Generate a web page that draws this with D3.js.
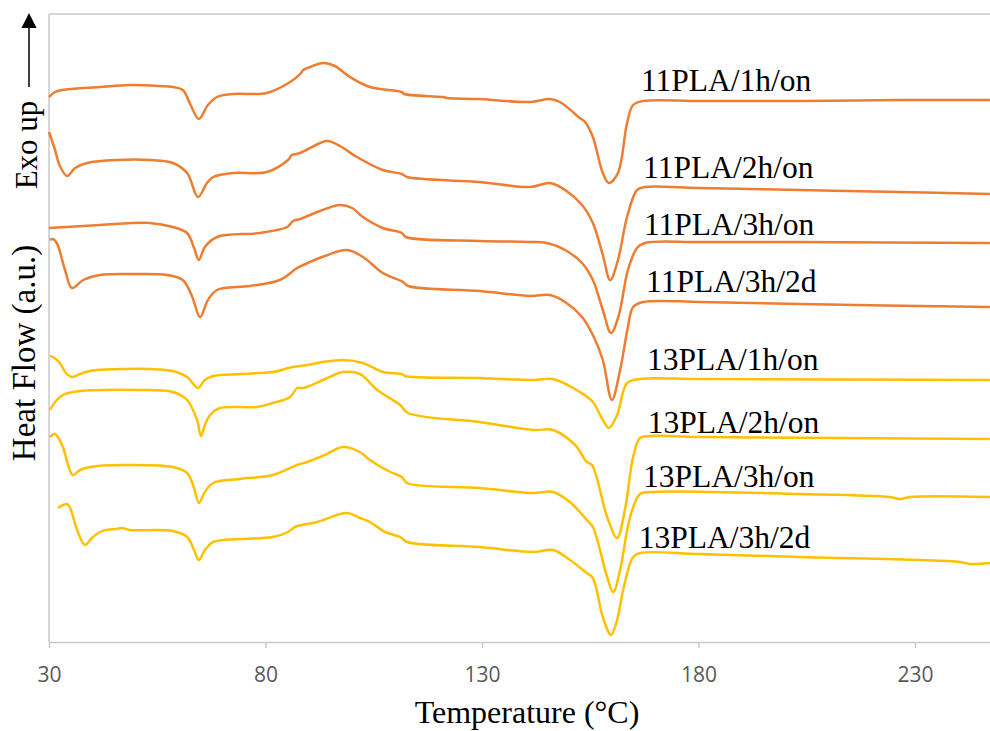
<!DOCTYPE html>
<html>
<head>
<meta charset="utf-8">
<script src="https://cdn.jsdelivr.net/npm/d3@7/dist/d3.min.js"></script>
<style>
  body { margin: 0; background: #fff; }
  svg { display: block; }
</style>
</head>
<body>
<div id="chart"></div>
<script>
// Heat flow curves, [temperature (°C), heat flow (a.u.)]
const pla11_1h_on = [[30.0,54.5],[31.4,55.0],[33.0,55.2],[41.8,55.5],[48.7,55.7],[55.6,55.6],[58.6,55.5],[60.9,55.2],[62.6,53.8],[64.6,52.3],[66.7,53.7],[68.8,54.5],[72.5,54.8],[80.3,54.9],[85.7,56.0],[88.0,56.8],[88.7,57.2],[90.3,57.5],[93.3,57.9],[96.0,57.6],[99.5,56.5],[104.1,55.5],[111.5,55.0],[112.0,54.8],[121.0,54.5],[121.9,54.4],[129.5,54.3],[141.1,54.0],[145.7,54.3],[148.0,54.0],[152.6,52.4],[153.8,52.0],[155.6,50.5],[157.9,46.9],[159.3,45.9],[161.4,46.9],[163.5,51.9],[164.9,53.7],[167.2,54.1],[180.3,54.1],[203.4,54.1],[226.5,54.2],[247.3,54.2]];
const pla11_2h_on = [[30.0,51.0],[31.4,49.2],[32.5,47.6],[34.2,46.6],[36.0,47.4],[38.8,47.9],[45.7,48.2],[53.3,48.2],[58.6,47.9],[61.9,46.9],[64.4,44.5],[66.5,45.9],[67.9,46.5],[72.5,46.9],[80.3,47.0],[85.2,48.2],[86.1,48.7],[88.0,48.9],[92.6,49.9],[94.4,50.1],[97.2,49.6],[101.1,48.5],[107.1,47.2],[111.5,46.8],[112.7,46.5],[129.5,46.0],[141.1,45.5],[145.7,45.9],[149.2,45.2],[153.1,43.7],[155.6,41.9],[157.9,38.7],[159.6,36.2],[161.4,38.2],[163.5,42.5],[165.8,45.2],[167.6,45.5],[180.3,45.4],[203.4,45.2],[226.5,45.0],[247.3,44.8]];
const pla11_3h_on = [[30.0,41.4],[41.8,41.7],[53.3,41.9],[58.6,41.5],[61.9,40.9],[63.5,39.4],[64.6,38.2],[66.0,39.5],[68.8,40.5],[78.7,40.9],[85.0,41.5],[86.4,42.1],[88.0,42.3],[92.6,43.1],[97.2,43.7],[100.0,43.4],[102.5,42.5],[107.1,41.4],[111.5,40.9],[112.4,40.5],[129.5,40.1],[141.1,40.0],[145.0,39.9],[149.2,39.2],[153.1,37.9],[155.6,36.2],[157.9,33.2],[159.8,30.9],[161.6,32.7],[163.7,37.2],[165.8,39.4],[167.6,39.9],[180.3,40.0],[203.4,40.0],[247.3,39.9]];
const pla11_3h_2d = [[30.2,40.2],[30.9,40.3],[31.8,39.9],[33.7,37.2],[35.3,35.4],[37.9,36.2],[41.8,36.7],[49.4,36.8],[57.3,36.7],[60.9,36.2],[63.0,34.6],[64.9,32.5],[66.7,34.2],[68.8,35.2],[76.4,35.6],[83.3,36.2],[87.3,37.4],[88.7,37.7],[93.7,38.6],[98.8,39.2],[102.5,38.5],[107.1,36.9],[111.8,36.0],[112.9,35.6],[129.5,35.1],[141.1,34.6],[145.7,34.7],[149.2,34.0],[153.1,32.5],[155.6,30.7],[157.9,28.2],[160.0,24.2],[161.9,27.2],[163.7,31.5],[164.9,33.5],[167.2,34.0],[180.3,34.0],[203.4,33.8],[247.3,33.5]];
const pla13_1h_on = [[30.2,28.6],[30.9,28.5],[32.5,27.9],[33.9,26.9],[35.3,26.5],[37.2,26.8],[39.5,27.1],[47.1,27.3],[53.3,27.3],[58.6,27.1],[61.9,26.5],[64.4,25.4],[66.0,26.2],[67.9,26.6],[74.1,26.8],[81.7,27.0],[84.5,27.3],[85.2,27.4],[89.6,27.7],[93.3,28.0],[97.9,28.2],[102.5,27.9],[107.1,27.0],[111.5,26.8],[112.2,26.6],[129.5,26.4],[141.8,26.2],[146.4,26.3],[152.6,25.0],[155.6,24.0],[157.9,22.2],[159.3,21.4],[161.2,22.7],[163.5,25.9],[166.5,26.3],[180.3,26.3],[247.3,26.2]];
const pla13_2h_on = [[30.2,23.2],[31.8,24.2],[33.2,24.7],[35.5,25.0],[51.0,25.2],[58.6,25.0],[61.9,24.2],[64.2,22.2],[65.1,20.6],[66.0,21.7],[67.2,22.7],[69.5,23.4],[78.0,23.5],[81.7,23.9],[85.7,24.5],[87.3,25.4],[88.7,25.4],[93.3,26.2],[97.9,27.0],[101.8,26.8],[105.8,25.2],[111.1,23.7],[112.9,22.9],[129.5,22.0],[141.8,21.2],[146.4,21.2],[151.5,19.7],[154.2,18.0],[155.4,17.7],[158.9,12.5],[161.2,10.4],[163.0,13.2],[164.9,18.5],[166.5,20.4],[168.8,20.6],[180.3,20.5],[247.3,20.3]];
const pla13_3h_on = [[30.2,20.5],[31.4,20.8],[33.2,19.5],[34.4,17.7],[35.5,16.7],[37.2,17.2],[39.5,17.5],[47.1,17.7],[58.6,17.5],[61.9,16.9],[63.5,15.4],[64.6,13.9],[66.0,15.0],[67.9,15.9],[74.1,16.3],[81.7,16.7],[87.3,17.7],[89.6,18.0],[93.7,18.7],[97.9,19.5],[101.8,19.0],[104.1,18.2],[108.8,17.0],[111.5,16.5],[112.7,15.9],[129.5,15.4],[141.8,14.9],[146.4,15.0],[150.3,14.0],[154.2,12.2],[155.6,11.5],[158.9,6.5],[160.3,5.0],[161.9,7.2],[164.2,12.5],[166.5,14.8],[168.8,15.0],[203.4,14.8],[224.2,14.5],[226.5,14.3],[228.8,14.5],[247.3,14.5]];
const pla13_3h_2d = [[32.1,13.4],[33.2,13.7],[34.2,13.8],[34.8,13.5],[36.5,11.2],[38.3,9.7],[39.9,10.4],[41.8,11.0],[43.4,11.2],[45.5,11.3],[46.9,11.4],[48.7,11.2],[58.6,11.1],[61.9,10.5],[63.5,9.2],[64.6,8.2],[66.0,9.2],[67.9,10.0],[74.1,10.3],[81.7,10.5],[85.2,11.0],[86.8,11.5],[91.9,12.0],[98.8,12.9],[101.8,12.4],[104.1,12.0],[107.6,11.0],[111.1,10.5],[112.7,10.0],[129.5,9.5],[141.8,9.0],[146.4,9.2],[150.3,8.2],[154.2,6.9],[155.6,6.4],[157.9,2.5],[159.8,0.7],[161.2,2.2],[162.6,5.2],[164.9,8.5],[166.5,8.9],[180.3,8.8],[203.4,8.5],[240.4,8.0],[242.7,7.8],[247.3,7.9]];

const seriesNames = ["11PLA/1h/on", "11PLA/2h/on", "11PLA/3h/on", "11PLA/3h/2d",
                     "13PLA/1h/on", "13PLA/2h/on", "13PLA/3h/on", "13PLA/3h/2d"];
const seriesValues = [pla11_1h_on, pla11_2h_on, pla11_3h_on, pla11_3h_2d,
                      pla13_1h_on, pla13_2h_on, pla13_3h_on, pla13_3h_2d];
// where each curve name sits, [temperature, heat flow]
const labelAt = [[166.7,55.1],[167.2,46.4],[167.4,40.7],[167.9,35.0],
                 [168.1,27.2],[168.3,20.9],[167.2,15.5],[166.2,9.4]];
const xTicks = [30, 80, 130, 180, 230];

const width = 990, height = 731;
const margin = { top: 14, left: 49, bottom: 89 };

const svg = d3.select("#chart").append("svg")
  .attr("width", width)
  .attr("height", height);

const x = d3.scaleLinear()
  .domain([30, 250])
  .range([margin.left, margin.left + 220 * 4.33]);

const y = d3.scaleLinear()
  .domain([0, 62.8])
  .range([height - margin.bottom, margin.top]);

const color = d3.scaleOrdinal()
  .domain(["11PLA", "13PLA"])
  .range(["#ED7D31", "#FFC000"]);

// plot frame: top and left edges
svg.append("line")
  .attr("x1", margin.left).attr("x2", width)
  .attr("y1", margin.top).attr("y2", margin.top)
  .attr("stroke", "#c8c8c8").attr("stroke-width", 1.5);

svg.append("line")
  .attr("x1", margin.left).attr("x2", margin.left)
  .attr("y1", margin.top).attr("y2", y(0))
  .attr("stroke", "#c8c8c8").attr("stroke-width", 1.5);

// x axis
const xAxis = svg.append("g")
  .attr("transform", `translate(0,${y(0)})`)
  .call(d3.axisBottom(x).tickValues(xTicks).tickSize(6).tickSizeOuter(0).tickPadding(19));

xAxis.select(".domain").attr("stroke", "#c8c8c8").attr("stroke-width", 1.5);
xAxis.selectAll(".tick line").attr("stroke", "#c8c8c8").attr("stroke-width", 1.5);
xAxis.selectAll(".tick text")
  .attr("fill", "#595959")
  .style("font-family", "'Open Sans', sans-serif")
  .style("font-size", "21px");

// axis titles
svg.append("text")
  .attr("x", 527)
  .attr("y", 723)
  .attr("text-anchor", "middle")
  .style("font-family", "'Liberation Serif', serif")
  .style("font-size", "32px")
  .text("Temperature (°C)");

svg.append("text")
  .attr("transform", "translate(35,353) rotate(-90)")
  .attr("text-anchor", "middle")
  .style("font-family", "'Liberation Serif', serif")
  .style("font-size", "33px")
  .text("Heat Flow (a.u.)");

svg.append("text")
  .attr("transform", "translate(37,145) rotate(-90)")
  .attr("text-anchor", "middle")
  .style("font-family", "'Liberation Serif', serif")
  .style("font-size", "31px")
  .text("Exo up");

// exo up arrow
svg.append("line")
  .attr("x1", 29).attr("x2", 29)
  .attr("y1", 87).attr("y2", 26)
  .attr("stroke", "black").attr("stroke-width", 1.5);

svg.append("path")
  .attr("d", "M29,13 L21.5,28 L36.5,28 Z")
  .attr("fill", "black");

// curves
const line = d3.line()
  .x(d => x(d[0]))
  .y(d => y(d[1]))
  .curve(d3.curveCatmullRom.alpha(0.5));

seriesValues.forEach((values, i) => {
  svg.append("path")
    .datum(values)
    .attr("fill", "none")
    .attr("stroke", color(seriesNames[i].slice(0, 5)))
    .attr("stroke-width", 2.5)
    .attr("stroke-linejoin", "round")
    .attr("d", line);

  svg.append("text")
    .attr("x", x(labelAt[i][0]))
    .attr("y", y(labelAt[i][1]))
    .style("font-family", "'Liberation Serif', serif")
    .style("font-size", "31.5px")
    .text(seriesNames[i]);
});
</script>
</body>
</html>
